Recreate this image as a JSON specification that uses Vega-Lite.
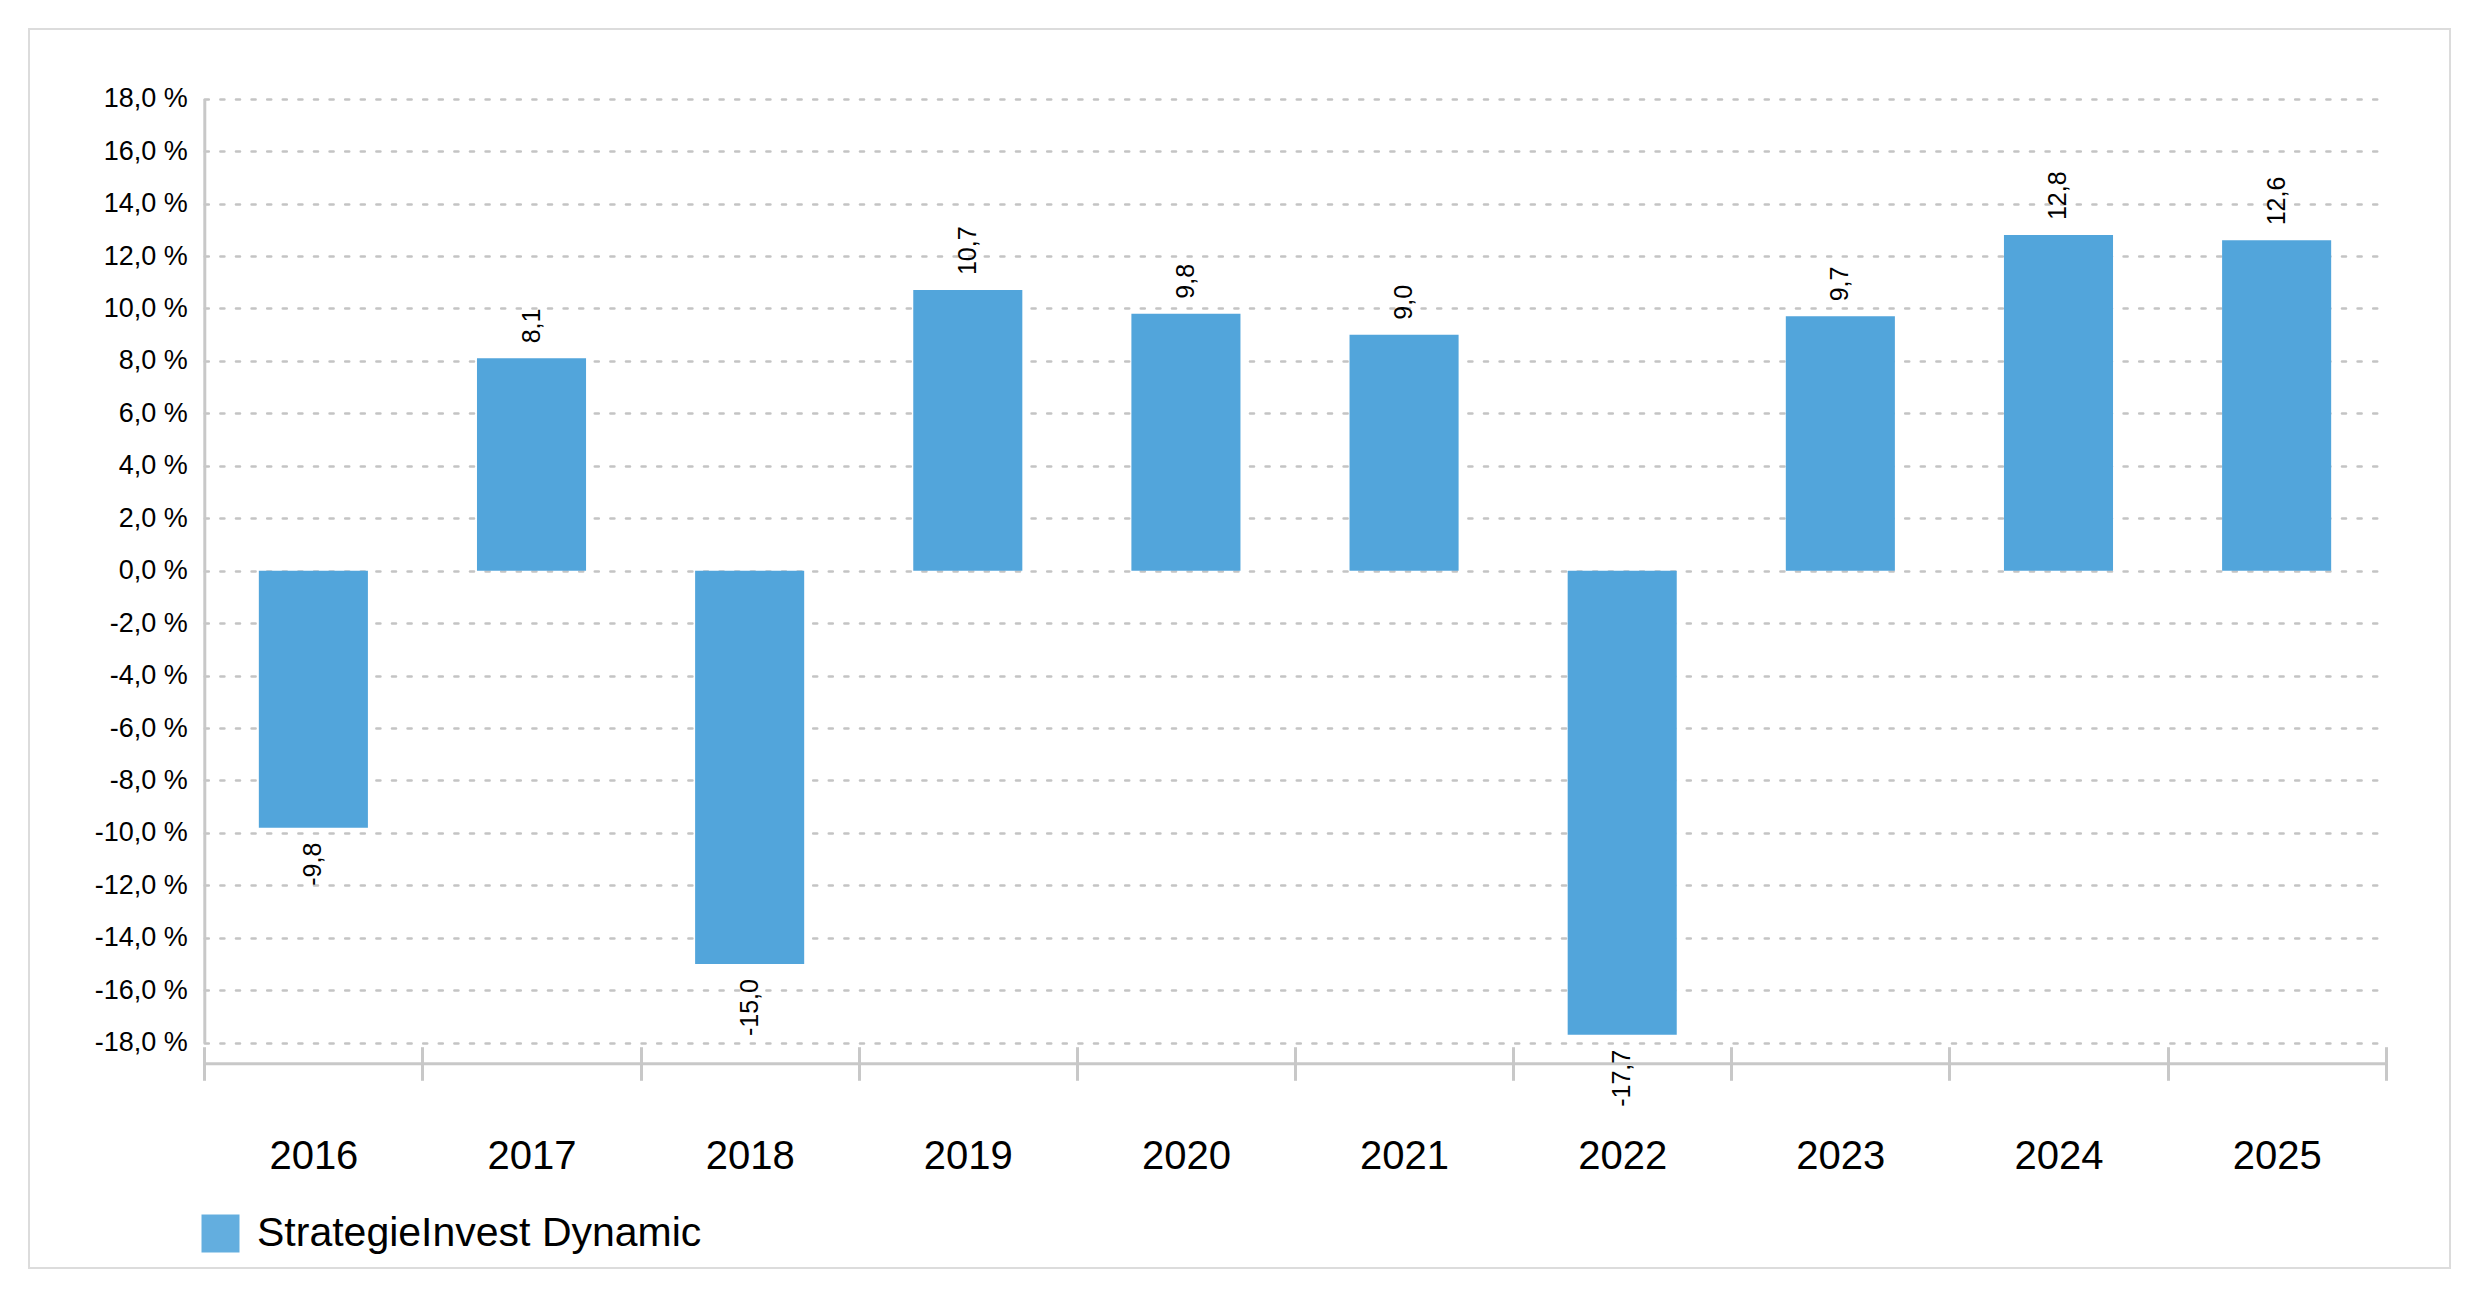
{
  "$schema": "https://vega.github.io/schema/vega-lite/v6.json",
  "width": 2421,
  "height": 1239,
  "autosize": {"type": "none"},
  "padding": {"left": 29, "top": 29, "right": 30, "bottom": 31},
  "background": "#ffffff",
  "config": {
    "font": "Liberation Sans",
    "locale": {
      "number": {"decimal": ",", "thousands": ".", "grouping": [3], "currency": ["", " €"], "minus": "-"}
    },
    "view": {"stroke": "#dcdcdc", "strokeWidth": 2}
  },
  "data": {
    "values": [
      {"year": "2016", "value": -9.8, "series": "StrategieInvest Dynamic"},
      {"year": "2017", "value": 8.1, "series": "StrategieInvest Dynamic"},
      {"year": "2018", "value": -15.0, "series": "StrategieInvest Dynamic"},
      {"year": "2019", "value": 10.7, "series": "StrategieInvest Dynamic"},
      {"year": "2020", "value": 9.8, "series": "StrategieInvest Dynamic"},
      {"year": "2021", "value": 9.0, "series": "StrategieInvest Dynamic"},
      {"year": "2022", "value": -17.7, "series": "StrategieInvest Dynamic"},
      {"year": "2023", "value": 9.7, "series": "StrategieInvest Dynamic"},
      {"year": "2024", "value": 12.8, "series": "StrategieInvest Dynamic"},
      {"year": "2025", "value": 12.6, "series": "StrategieInvest Dynamic"}
    ]
  },
  "encoding": {
    "y": {
      "field": "value",
      "type": "quantitative",
      "scale": {"domain": [-18, 18], "range": [1013.7, 69.7], "nice": false},
      "axis": {
        "title": null,
        "orient": "left",
        "offset": -175.3,
        "values": [-18, -16, -14, -12, -10, -8, -6, -4, -2, 0, 2, 4, 6, 8, 10, 12, 14, 16, 18],
        "labelExpr": "format(datum.value, '.1f') + ' %'",
        "labelFont": "Liberation Sans",
        "labelFontSize": 27,
        "labelColor": "#000000",
        "labelPadding": 17,
        "ticks": false,
        "tickSize": 0,
        "domainColor": "#c8c8c8",
        "domainWidth": 3,
        "grid": true,
        "gridColor": "#c4c4c4",
        "gridWidth": 2.6,
        "gridDash": [4, 11.6],
        "gridCap": "round"
      }
    }
  },
  "layer": [
    {
      "mark": {"type": "bar", "fill": "#52a5db", "width": {"band": 0.5}},
      "encoding": {
        "x": {
          "field": "year",
          "type": "ordinal",
          "scale": {"type": "band", "range": [175.3, 2356.7], "paddingInner": 0, "paddingOuter": 0},
          "axis": {
            "title": null,
            "orient": "bottom",
            "offset": -204.7,
            "tickBand": "extent",
            "grid": false,
            "domainColor": "#c8c8c8",
            "domainWidth": 3,
            "tickColor": "#c8c8c8",
            "tickWidth": 3,
            "tickSize": 17,
            "labelAngle": 0,
            "labelFont": "Liberation Sans",
            "labelFontSize": 40,
            "labelColor": "#000000",
            "labelPadding": 56
          }
        },
        "color": {
          "field": "series",
          "type": "nominal",
          "scale": {"range": ["#52a5db"]},
          "legend": {
            "title": null,
            "orient": "none",
            "legendX": 171,
            "legendY": 1184,
            "symbolType": "square",
            "symbolSize": 1444,
            "symbolStrokeWidth": 0,
            "symbolOpacity": 0.9,
            "labelFont": "Liberation Sans",
            "labelFontSize": 41,
            "labelColor": "#000000",
            "labelOffset": 16,
            "labelLimit": 900
          }
        }
      }
    },
    {
      "transform": [{"filter": "datum.value >= 0"}],
      "mark": {"type": "text", "angle": 270, "align": "left", "baseline": "middle", "dx": 15, "fontSize": 25, "font": "Liberation Sans", "color": "#000000"},
      "encoding": {
        "x": {
          "field": "year",
          "type": "ordinal",
          "axis": {
            "title": null,
            "orient": "bottom",
            "offset": -221.3,
            "tickBand": "extent",
            "grid": false,
            "domain": false,
            "labels": false,
            "tickColor": "#c8c8c8",
            "tickWidth": 3,
            "tickSize": 17
          }
        },
        "text": {"field": "value", "type": "quantitative", "format": ".1f"}
      }
    },
    {
      "transform": [{"filter": "datum.value < 0"}],
      "mark": {"type": "text", "angle": 270, "align": "right", "baseline": "middle", "dx": -15, "fontSize": 25, "font": "Liberation Sans", "color": "#000000"},
      "encoding": {
        "x": {"field": "year", "type": "ordinal", "axis": null},
        "text": {"field": "value", "type": "quantitative", "format": ".1f"}
      }
    }
  ],
  "resolve": {"axis": {"x": "independent"}}
}
